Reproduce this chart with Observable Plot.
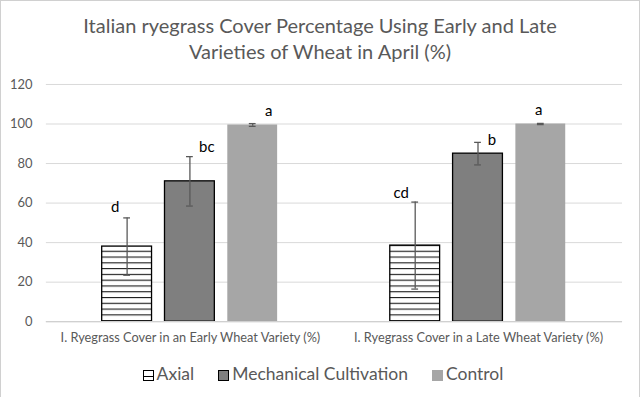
<!DOCTYPE html>
<html>
<head>
<meta charset="utf-8">
<script src="https://cdn.jsdelivr.net/npm/d3@7"></script>
<script src="https://cdn.jsdelivr.net/npm/@observablehq/plot@0.6"></script>
<style>
  html, body { margin: 0; padding: 0; background: #fff; }
  #frame { position: relative; width: 638px; height: 397px; border: 1px solid #d0d0d0; border-bottom: none; box-sizing: content-box; overflow: hidden; font-family: Lato, "Open Sans", sans-serif; }
  #title { height: 70px; text-align: center; color: #595959; font-size: 20px; line-height: 26px; padding-top: 11px; box-sizing: border-box; }
  #chart { height: 286px; }
  #legend { display: flex; align-items: center; justify-content: center; padding-left: 6px; color: #595959; font-size: 17.5px; height: 33px; }
  .item { display: flex; align-items: center; margin-right: 24px; }
  .item:last-child { margin-right: 0; }
  .sw { width: 11px; height: 11px; margin-right: 3px; margin-top: 4px; box-sizing: border-box; }
</style>
</head>
<body>
<div id="frame">
  <div id="title">Italian ryegrass Cover Percentage Using Early and Late<br>Varieties of Wheat in April (%)</div>
  <div id="chart"></div>
  <div id="legend"></div>
</div>
<script>
const groups = ["I. Ryegrass Cover in an Early Wheat Variety (%)", "I. Ryegrass Cover in a Late Wheat Variety (%)"];
const series = ["Axial", "Mechanical Cultivation", "Control"];
const earlyMeans = [38, 71, 99.5];
const earlyErrors = [14.5, 12.5, 0.7];
const earlyLetters = ["d", "bc", "a"];
const lateMeans = [38.5, 85, 100];
const lateErrors = [22, 5.7, 0.3];
const lateLetters = ["cd", "b", "a"];
const yTicks = [0, 20, 40, 60, 80, 100, 120];

const fills = ["url(#hatch)", "#7f7f7f", "#a6a6a6"];
// letter label offsets (style)
const letterDx = [[-12, 17, 16], [-14, 14, -2]];
const letterDy = [[-11, -9, -12], [-9, -2, -13]];

const rows = [];
[[earlyMeans, earlyErrors, earlyLetters], [lateMeans, lateErrors, lateLetters]].forEach(([m, e, l], gi) => {
  series.forEach((s, si) => rows.push({group: groups[gi], series: s, value: m[si], err: e[si], letter: l[si], gi, si}));
});

const letterMarks = rows.map(r => Plot.text([r], {
  fx: "group", x: "series", y: d => d.value + d.err, text: "letter",
  dx: letterDx[r.gi][r.si], dy: letterDy[r.gi][r.si],
  fill: "#000", fontSize: 15, fontFamily: "Lato, 'Open Sans', sans-serif"
}));

const chart = Plot.plot({
  width: 640,
  height: 286,
  marginTop: 13,
  marginBottom: 35,
  marginLeft: 44,
  marginRight: 17,
  style: {fontFamily: "Lato, 'Open Sans', sans-serif", overflow: "visible"},
  fx: {domain: groups, padding: 0, axis: null},
  x: {domain: series, paddingInner: 0.2, paddingOuter: 0.86, axis: null},
  y: {domain: [0, 120], ticks: yTicks, label: null},
  color: {domain: series, range: fills},
  marks: [
    Plot.gridY(yTicks, {stroke: "#d9d9d9", strokeOpacity: 1}),
    Plot.axisY(yTicks, {tickSize: 0, tickPadding: 14, fill: "#595959", fontSize: 13, label: null, anchor: "left", facetAnchor: "left"}),
    Plot.barY(rows.filter(r => r.series !== "Control"), {fx: "group", x: "series", y: "value", fill: "series", stroke: "#000", strokeWidth: 1.3}),
    Plot.barY(rows.filter(r => r.series === "Control"), {fx: "group", x: "series", y: "value", fill: "series"}),
    Plot.ruleY([0], {stroke: "#d0d0d0", strokeWidth: 1.2}),
    Plot.ruleX(rows, {fx: "group", x: "series", y1: d => d.value - d.err, y2: d => d.value + d.err, stroke: "#595959", strokeWidth: 1.3}),
    Plot.tickY(rows, {fx: "group", x: "series", y: d => d.value + d.err, stroke: "#595959", strokeWidth: 1.3, insetLeft: 21.6, insetRight: 21.6}),
    Plot.tickY(rows, {fx: "group", x: "series", y: d => d.value - d.err, stroke: "#595959", strokeWidth: 1.3, insetLeft: 21.6, insetRight: 21.6}),
    ...letterMarks,
    Plot.text(groups, {fx: d => d, frameAnchor: "bottom", dy: 20, text: d => d, fill: "#595959", fontSize: 12.8, fontFamily: "Lato, 'Open Sans', sans-serif"})
  ]
});

// hatch pattern definition
const ns = "http://www.w3.org/2000/svg";
const defs = document.createElementNS(ns, "defs");
defs.innerHTML = `<pattern id="hatch" patternUnits="userSpaceOnUse" width="6" height="5.8" y="0.5">
  <rect width="6" height="5.8" fill="#fff"/>
  <line x1="0" x2="6" y1="0.6" y2="0.6" stroke="#000" stroke-width="1"/>
</pattern>`;
chart.insertBefore(defs, chart.firstChild);
document.getElementById("chart").appendChild(chart);

// legend
const legend = document.getElementById("legend");
series.forEach((s, i) => {
  const item = document.createElement("div");
  item.className = "item";
  const sw = document.createElement("div");
  sw.className = "sw";
  if (i === 0) { sw.style.background = "linear-gradient(#fff 0 55%, #000 55% 72%, #fff 72%)"; sw.style.border = "1px solid #000"; }
  else if (i === 1) { sw.style.background = "#7f7f7f"; sw.style.border = "1px solid #000"; }
  else { sw.style.background = "#a6a6a6"; }
  const t = document.createElement("span");
  t.textContent = s;
  item.appendChild(sw); item.appendChild(t);
  legend.appendChild(item);
});
</script>
</body>
</html>
